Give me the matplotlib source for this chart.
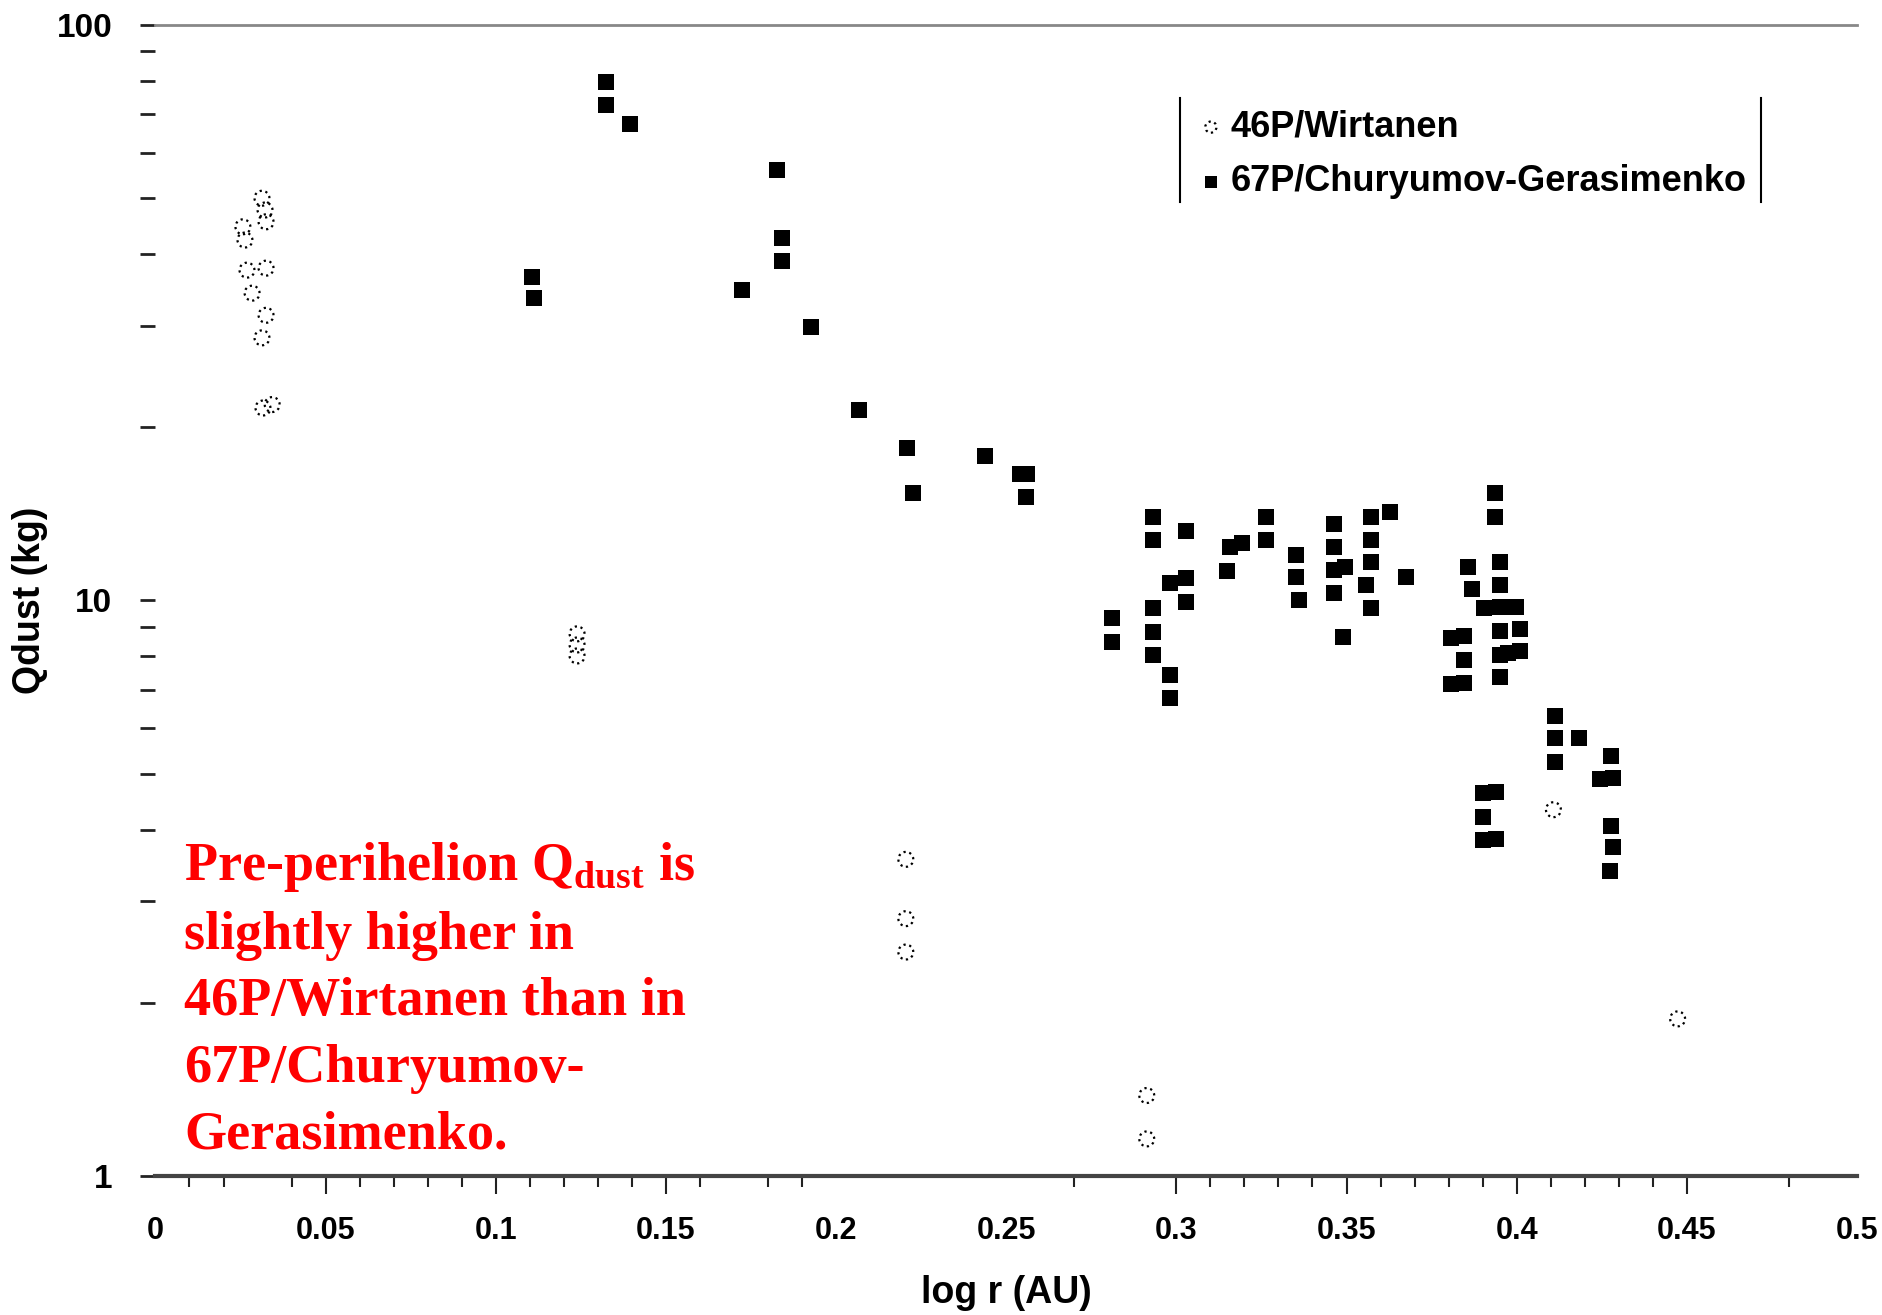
import numpy as np
import matplotlib
matplotlib.use('Agg')
import matplotlib.pyplot as plt
from matplotlib.ticker import LogLocator, NullFormatter
from matplotlib.lines import Line2D

plt.rcParams['font.family'] = ['Liberation Sans', 'DejaVu Sans']
plt.rcParams['mathtext.fontset'] = 'custom'
plt.rcParams['mathtext.bf'] = 'Liberation Serif:bold'
plt.rcParams['mathtext.rm'] = 'Liberation Serif:bold'

# 46P/Wirtanen (open dotted circles)
wirt_logr = [0.0313, 0.0322, 0.0325, 0.0257, 0.0263, 0.0269, 0.0325, 0.0284, 0.0325,
             0.0313, 0.0343, 0.0316, 0.1239, 0.1239, 0.1239, 0.2205, 0.2205, 0.2205,
             0.2913, 0.2913, 0.4108, 0.4473]
wirt_q = [50.0, 47.7, 45.5, 44.6, 42.3, 37.5, 37.8, 34.2, 31.3,
          28.6, 21.9, 21.6, 8.75, 8.37, 8.01, 3.55, 2.80, 2.45,
          1.38, 1.16, 4.33, 1.875]

# 67P/Churyumov-Gerasimenko (filled squares)
cg_logr = [0.1324, 0.1324, 0.1394, 0.1826, 0.1841, 0.1841, 0.1107, 0.1112, 0.1723, 0.1926,
           0.2067, 0.2208, 0.2225, 0.2437, 0.2540, 0.2560, 0.2557,
           0.2812, 0.2812, 0.2930, 0.2930, 0.2930, 0.2930, 0.2930,
           0.2981, 0.2981, 0.2981, 0.3028, 0.3028, 0.3028,
           0.3149, 0.3157, 0.3194, 0.3263, 0.3263,
           0.3353, 0.3353, 0.3360,
           0.3462, 0.3462, 0.3462, 0.3462, 0.3495, 0.3490,
           0.3571, 0.3627, 0.3571, 0.3571, 0.3558, 0.3571, 0.3674,
           0.3935, 0.3935, 0.3857, 0.3952, 0.3869, 0.3952,
           0.3903, 0.3952, 0.3999, 0.3952, 0.4009,
           0.3808, 0.3845, 0.3845, 0.3950, 0.3974, 0.4009, 0.3952,
           0.3808, 0.3845,
           0.4112, 0.4112, 0.4183, 0.4112, 0.4276, 0.4244, 0.4283,
           0.3901, 0.3938, 0.3901, 0.3901, 0.3938,
           0.4276, 0.4283, 0.4273]
cg_q = [79.6, 72.6, 67.3, 55.9, 42.7, 38.9, 36.5, 33.6, 34.7, 29.9,
        21.4, 18.4, 15.4, 17.8, 16.6, 16.6, 15.1,
        9.33, 8.48, 13.98, 12.74, 9.69, 8.81, 8.04,
        10.71, 7.42, 6.78, 13.18, 10.93, 9.95,
        11.27, 12.40, 12.60, 13.99, 12.74,
        12.0, 10.97, 10.02,
        13.58, 12.38, 11.29, 10.29, 11.45, 8.63,
        13.99, 14.27, 12.74, 11.68, 10.64, 9.71, 10.97,
        15.36, 13.95, 11.45, 11.68, 10.47, 10.64,
        9.69, 9.75, 9.75, 8.85, 8.91,
        8.60, 8.68, 7.88, 8.04, 8.12, 8.17, 7.35,
        7.16, 7.20,
        6.30, 5.76, 5.78, 5.23, 5.37, 4.89, 4.91,
        4.62, 4.64, 4.20, 3.84, 3.85,
        4.06, 3.73, 3.39]

xtick_vals = np.arange(0, 0.501, 0.05)
xtick_labels = ['0', '0.05', '0.1', '0.15', '0.2', '0.25', '0.3', '0.35', '0.4', '0.45', '0.5']
x_minor = [0.01, 0.02, 0.04, 0.06, 0.07, 0.08, 0.09, 0.11, 0.12, 0.13, 0.14, 0.16,
           0.18, 0.19, 0.27, 0.31, 0.32, 0.33, 0.34, 0.36, 0.37, 0.38, 0.39,
           0.41, 0.42, 0.43, 0.44, 0.48]

fig = plt.figure(figsize=(18.82, 13.15), dpi=100)
ax = fig.add_axes([0.0826, 0.1057, 0.9041, 0.8753])

ax.scatter(wirt_logr, wirt_q, s=115, facecolors='none', edgecolors='black',
           linewidths=1.6, linestyles=':', label='46P/Wirtanen', zorder=3)
ax.scatter(cg_logr, cg_q, s=135, marker='s', c='black', linewidths=0,
           label='67P/Churyumov-Gerasimenko', zorder=3)

ax.set_yscale('log')
ax.set_xlim(0, 0.5)
ax.set_ylim(1, 100)

ax.set_yticks([1, 10, 100], ['1', '10', '100'])
ax.yaxis.set_minor_locator(LogLocator(base=10, subs=np.arange(2, 10)))
ax.yaxis.set_minor_formatter(NullFormatter())
ax.tick_params(axis='y', which='both', direction='out', length=11, width=2,
               color='#222222', labelsize=24, pad=20)
for lab in ax.get_yticklabels():
    lab.set_fontweight('bold')

ax.set_xticks(xtick_vals, xtick_labels)
ax.set_xticks(x_minor, minor=True)
ax.tick_params(axis='x', which='major', direction='out', length=13, width=1.5,
               color='#222222', labelsize=22, pad=16)
ax.tick_params(axis='x', which='minor', direction='out', length=8, width=1.5,
               color='#222222')
for t, v in zip(ax.xaxis.get_major_ticks(), xtick_vals):
    if round(v, 2) in (0.0, 0.2, 0.25, 0.5):
        t.tick1line.set_visible(False)
for lab in ax.get_xticklabels():
    lab.set_fontweight('bold')

ax.spines['left'].set_visible(False)
ax.spines['right'].set_visible(False)
ax.spines['top'].set_color('#888888')
ax.spines['top'].set_linewidth(2)
ax.spines['bottom'].set_color('#444444')
ax.spines['bottom'].set_linewidth(3)

ax.set_xlabel('log r (AU)', fontsize=27, fontweight='bold', labelpad=21)
ax.set_ylabel('Qdust (kg)', fontsize=27, fontweight='bold', labelpad=6)

leg = ax.legend(loc='center left', bbox_to_anchor=(0.629, 0.8825),
                bbox_transform=fig.transFigure, frameon=False,
                fontsize=26, handlelength=0.5, handletextpad=0.3,
                labelspacing=0.55, borderpad=0, markerscale=0.75)
for txt in leg.get_texts():
    txt.set_fontweight('bold')

# legend side bars
fig.add_artist(Line2D([0.627, 0.627], [0.8464, 0.9255], color='black', lw=1.5,
                      transform=fig.transFigure))
fig.add_artist(Line2D([0.9357, 0.9357], [0.8464, 0.9255], color='black', lw=1.5,
                      transform=fig.transFigure))

note = ('Pre-perihelion Q$_{\\mathbf{dust}}$ is\nslightly higher in\n'
        '46P/Wirtanen than in\n67P/Churyumov-\nGerasimenko.')
fig.text(0.098, 1 - 840 / 1315, note, color='red', fontsize=39,
         fontweight='bold', family='Liberation Serif', va='top', ha='left',
         linespacing=1.44)

fig.savefig('out.png', dpi=100)
